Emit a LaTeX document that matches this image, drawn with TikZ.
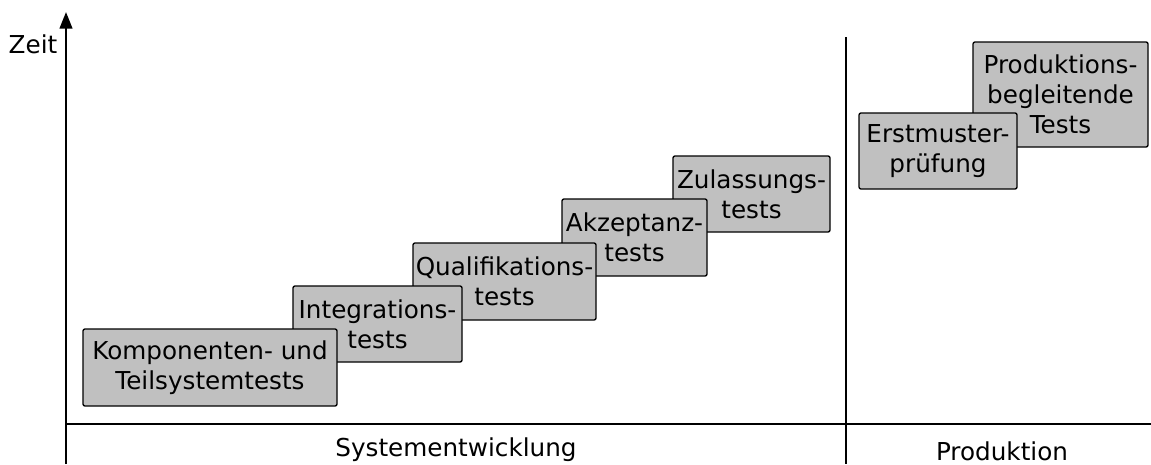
\documentclass[tikz,border=0pt]{standalone}
\usepackage{fontspec}
\setmainfont{DejaVu Sans}
\usetikzlibrary{arrows.meta}
\definecolor{boxgray}{RGB}{192,192,192}
\tikzset{
  x=0.75pt, y=-0.75pt,
  axis/.style={line width=1.6pt},
  phase/.style={draw=black, line width=1pt, fill=boxgray, rounded corners=1.5pt,
    align=center, inner sep=0pt, font=\fontsize{18.5}{22.5}\selectfont},
  size/.style 2 args={minimum width=#1*0.75pt, minimum height=#2*0.75pt},
  lbl/.style={inner sep=0pt, font=\fontsize{18.5}{22.5}\selectfont}
}
\begin{document}
\begin{tikzpicture}
\useasboundingbox (0,0) rectangle (1151,464);
% axes and phase divider
\coordinate (ybot) at (66,464);
\coordinate (ytop) at (66,12);
\coordinate (hleft) at (66,424);
\coordinate (hright) at (1151,424);
\coordinate (dtop) at (846,37);
\coordinate (dbot) at (846,464);
\draw[axis, -{Triangle[length=12.5pt, width=9.5pt]}] (ybot) -- (ytop);
\draw[axis] (hleft) -- (hright);
\draw[axis] (dtop) -- (dbot);
% test phases, back to front
\node[phase, size={175}{105}] (prod) at (1060.5,94.5) {Produktions-\\begleitende\\Tests};
\node[phase, size={158}{76}] (erst) at (938,151) {Erstmuster-\\prüfung};
\node[phase, size={157}{76}] (zul) at (751.5,194) {Zulassungs-\\tests};
\node[phase, size={145}{77}] (akz) at (634.5,237.5) {Akzeptanz-\\tests};
\node[phase, size={183}{77}] (qual) at (504.5,281.5) {Qualifikations-\\tests};
\node[phase, size={169}{76}] (integ) at (377.5,324) {Integrations-\\tests};
\node[phase, size={254}{77}] (komp) at (210,367.5) {Komponenten- und\\Teilsystemtests};
% labels
\node[lbl] (zeit) at (33,44) {Zeit};
\node[lbl] (sysent) at (456,450) {Systementwicklung};
\node[lbl] (produktion) at (1002,451) {Produktion};
\end{tikzpicture}
\end{document}
